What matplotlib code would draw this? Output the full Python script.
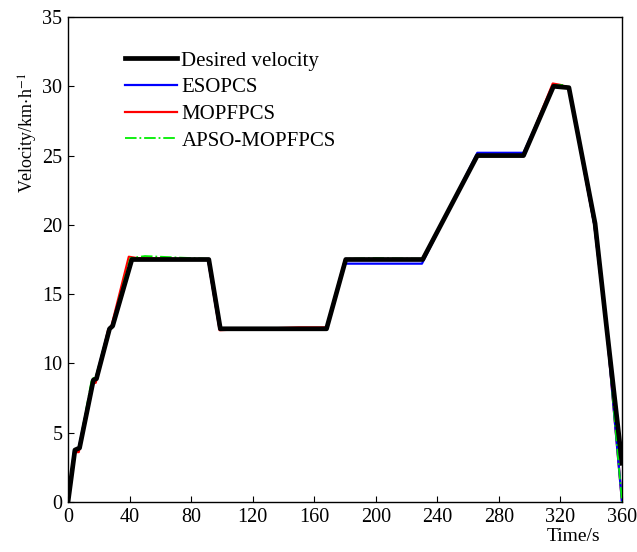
import numpy as np
import matplotlib
matplotlib.use("Agg")
import matplotlib.pyplot as plt

plt.rcParams['font.family'] = ['Liberation Serif', 'DejaVu Serif']
plt.rcParams['mathtext.fontset'] = 'stix'

# Desired velocity profile
t_des = [0, 4.5, 7.5, 16.5, 18.5, 27, 29, 41.5, 91.5, 99, 168, 180.5, 230.5, 266, 296, 315.5, 325.5, 342.5, 350, 360]
v_des = [0, 3.75, 3.9, 8.8, 8.9, 12.5, 12.7, 17.5, 17.5, 12.5, 12.5, 17.5, 17.5, 25, 25, 30, 29.9, 20.1, 12.6, 2.8]

# ESOPCS
t_eso = [0, 4, 7, 16, 18, 26.5, 28.5, 41, 91, 98.5, 168, 180, 230, 266, 296, 315.5, 325.5, 342, 350, 360]
v_eso = [0, 3.75, 3.9, 8.8, 8.9, 12.5, 12.7, 17.5, 17.5, 12.5, 12.5, 17.2, 17.2, 25.2, 25.2, 30, 29.9, 20, 12.5, 0]

# MOPFPCS
t_mop = [0, 4, 7, 15.5, 18, 26, 28, 39.5, 45, 91, 98.5, 110, 150, 168, 180, 230, 266, 296, 315, 320, 325.5, 342, 350, 360]
v_mop = [0, 3.6, 3.6, 8.6, 8.6, 12.4, 12.6, 17.7, 17.6, 17.5, 12.4, 12.45, 12.6, 12.6, 17.5, 17.5, 25, 25, 30.2, 30.1, 29.9, 20, 12.5, 0]

# APSO-MOPFPCS
t_apso = [0, 4, 7, 15.5, 18, 26.5, 28.5, 40.5, 50, 70, 91.5, 99, 168, 180.5, 200, 230.5, 266, 296, 315.5, 322, 325.5, 342, 350, 360]
v_apso = [0, 3.7, 3.8, 8.9, 9.0, 12.5, 12.7, 17.6, 17.75, 17.65, 17.55, 12.5, 12.5, 17.55, 17.6, 17.55, 25, 25, 30.05, 30.1, 29.9, 20, 12.5, 0]

fig = plt.figure(figsize=(6.37, 5.52), dpi=100)
ax = fig.add_axes([68/637, 50/552, 554/637, 485/552])

ax.plot(t_des, v_des, color='black', linewidth=3.4, label='Desired velocity', zorder=5)
ax.plot(t_eso, v_eso, color='blue', linewidth=1.6, label='ESOPCS', zorder=3)
ax.plot(t_mop, v_mop, color='red', linewidth=1.6, label='MOPFPCS', zorder=2)
ax.plot(t_apso, v_apso, color='#00ee00', linewidth=1.3, linestyle='-.', label='APSO-MOPFPCS', zorder=4)

ax.set_xlim(0, 360)
ax.set_ylim(0, 35)
ax.set_xticks(np.arange(0, 361, 40))
ax.set_yticks(np.arange(0, 36, 5))
ax.tick_params(direction='in', length=4, labelsize=14.5, top=False, right=False, pad=4)
for s in ax.spines.values():
    s.set_linewidth(1.0)

ax.set_ylabel(r'Velocity/km$\cdot$h$^{-1}$', fontsize=13)
ax.yaxis.set_label_coords(-0.051, 0.76)
ax.set_xlabel('Time/s', fontsize=14)
ax.xaxis.set_label_coords(0.912, -0.053)

leg = ax.legend(loc='upper left', bbox_to_anchor=(0.088, 0.947), frameon=False,
                fontsize=15, handlelength=2.5, handletextpad=0.2, labelspacing=0.34,
                borderaxespad=0)

fig.savefig('out.png', dpi=100)
